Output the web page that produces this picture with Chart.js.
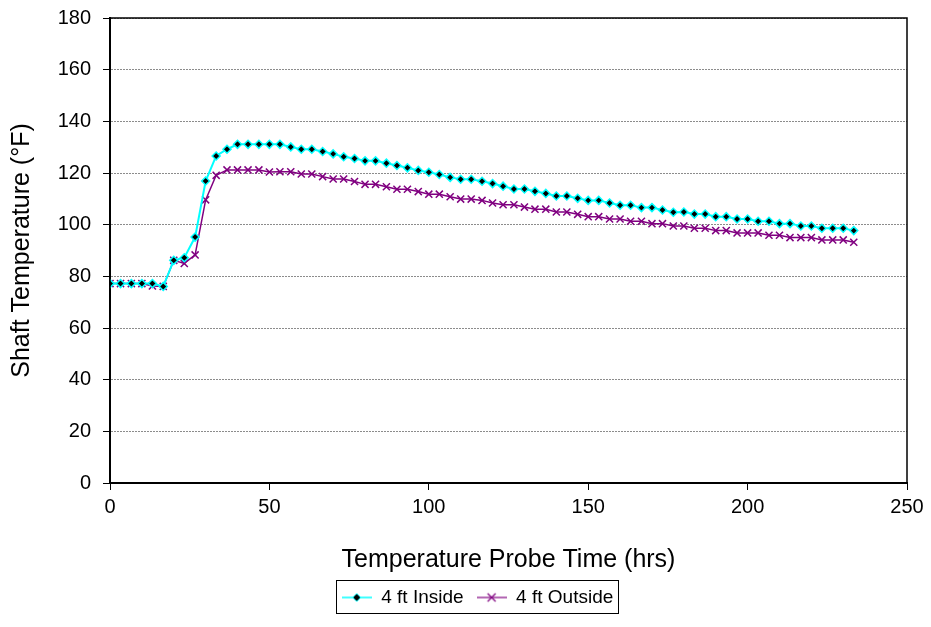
<!DOCTYPE html>
<html>
<head>
<meta charset="utf-8">
<script src="https://cdn.jsdelivr.net/npm/chart.js@4.4.0/dist/chart.umd.min.js"></script>
<style>
  html, body { margin: 0; padding: 0; background: #fff; }
</style>
</head>
<body>
<canvas id="chart" width="931" height="627"></canvas>
<script>
// Temps de la sonde (hrs)
const times = [0, 3.3, 6.7, 10, 13.3, 16.7, 20, 23.3, 26.7, 30, 33.3, 36.7, 40, 43.3, 46.7, 50,
  53.3, 56.7, 60, 63.3, 66.7, 70, 73.3, 76.7, 80, 83.3, 86.7, 90, 93.3, 96.7, 100, 103.3, 106.7,
  110, 113.3, 116.7, 120, 123.3, 126.7, 130, 133.3, 136.7, 140, 143.3, 146.7, 150, 153.3, 156.7,
  160, 163.3, 166.7, 170, 173.3, 176.7, 180, 183.3, 186.7, 190, 193.3, 196.7, 200, 203.3, 206.7,
  210, 213.3, 216.7, 220, 223.3, 226.7, 230, 233.3];

const inside4ft = [77.2, 77.2, 77.2, 77.2, 77.2, 76.1, 86.2, 87.2, 95.2, 116.9, 126.6, 129.2, 131.1,
  131.1, 131.1, 131.1, 131.1, 130.1, 129.2, 129.2, 128.3, 127.4, 126.3, 125.6, 124.7, 124.7, 123.8,
  122.9, 122, 121, 120.3, 119.4, 118.3, 117.6, 117.6, 116.8, 115.9, 114.9, 113.8, 113.8, 112.9,
  112.1, 111.1, 111.1, 110.2, 109.4, 109.4, 108.4, 107.5, 107.5, 106.6, 106.6, 105.7, 104.8, 104.9,
  104.1, 104.1, 103.1, 103.1, 102.2, 102.2, 101.3, 101.3, 100.4, 100.4, 99.5, 99.5, 98.6, 98.6,
  98.6, 97.7];

const outside4ft = [77.2, 77.2, 77.2, 77.2, 76.3, 76.1, 86.2, 85, 88.3, 109.6, 119.1, 121.2, 121.2,
  121.2, 121.2, 120.4, 120.5, 120.5, 119.6, 119.6, 118.6, 117.7, 117.7, 116.7, 115.6, 115.6, 114.7,
  113.7, 113.7, 112.8, 111.8, 111.8, 110.8, 109.9, 109.9, 109.4, 108.4, 107.7, 107.7, 106.8, 106,
  106, 104.9, 104.9, 104, 103.1, 103.1, 102.2, 102.2, 101.3, 101.3, 100.4, 100.4, 99.5, 99.5, 98.6,
  98.6, 97.7, 97.7, 96.8, 96.8, 96.8, 95.9, 95.9, 95, 95, 95, 94.1, 94.1, 94.1, 93.2];

const xTickValues = [0, 50, 100, 150, 200, 250];
const yTickValues = [0, 20, 40, 60, 80, 100, 120, 140, 160, 180];

Chart.defaults.font.family = "'Liberation Sans', Arial, sans-serif";
Chart.defaults.color = '#000';

// Petits dessins pour la légende (ligne + marqueur)
function legendMarker(color, lineW, drawMark) {
  const c = document.createElement('canvas');
  c.width = 30;
  c.height = 14;
  const g = c.getContext('2d');
  g.strokeStyle = color;
  g.lineWidth = lineW;
  g.beginPath();
  g.moveTo(0, 7);
  g.lineTo(30, 7);
  g.stroke();
  drawMark(g);
  return c;
}

const insideIcon = legendMarker('#00ffff', 1.5, g => {
  g.beginPath();
  g.moveTo(15, 3); g.lineTo(19, 7); g.lineTo(15, 11); g.lineTo(11, 7);
  g.closePath();
  g.fillStyle = '#000';
  g.fill();
  g.strokeStyle = '#00ffff';
  g.lineWidth = 1;
  g.stroke();
});

const outsideIcon = legendMarker('#800080', 1.2, g => {
  g.strokeStyle = '#800080';
  g.lineWidth = 1.2;
  g.beginPath();
  g.moveTo(11, 3); g.lineTo(19, 11);
  g.moveTo(19, 3); g.lineTo(11, 11);
  g.stroke();
});

const LEGEND_SHIFT = 24;

// Cadre noir autour de la zone du graphique + cadre de la légende
const framePlugin = {
  id: 'frame',
  beforeDraw(chart) {
    // décale la légende un peu vers la droite comme dans l'original
    const lg = chart.legend;
    lg.left += LEGEND_SHIFT;
    lg.right += LEGEND_SHIFT;
    lg.legendHitBoxes.forEach(h => { h.left += LEGEND_SHIFT; });
  },
  afterDatasetsDraw(chart) {
    const { ctx, chartArea: a } = chart;
    ctx.save();
    ctx.strokeStyle = '#000';
    ctx.lineWidth = 1.5;
    ctx.strokeRect(a.left, a.top, a.right - a.left, a.bottom - a.top);
    ctx.restore();
  },
  afterDraw(chart) {
    const boxes = chart.legend.legendHitBoxes;
    if (!boxes || !boxes.length) return;
    let l = Infinity, t = Infinity, r = -Infinity, b = -Infinity;
    boxes.forEach(h => {
      l = Math.min(l, h.left); t = Math.min(t, h.top);
      r = Math.max(r, h.left + h.width); b = Math.max(b, h.top + h.height);
    });
    const ctx = chart.ctx;
    ctx.save();
    ctx.strokeStyle = '#000';
    ctx.lineWidth = 1;
    ctx.strokeRect(Math.round(l - 6) + 0.5, Math.round(t - 8) + 0.5,
      Math.round(r - l + 10), Math.round(b - t + 14));
    ctx.restore();
  }
};

const ctx = document.getElementById('chart').getContext('2d');
new Chart(ctx, {
  type: 'line',
  data: {
    datasets: [{
      label: '4 ft Inside',
      data: times.map((t, i) => ({ x: t, y: inside4ft[i] })),
      borderColor: '#00ffff',
      borderWidth: 2,
      pointStyle: 'rectRot',
      pointRadius: 4,
      pointBackgroundColor: '#000',
      pointBorderColor: '#00ffff',
      pointBorderWidth: 1.5,
      tension: 0
    }, {
      label: '4 ft Outside',
      data: times.map((t, i) => ({ x: t, y: outside4ft[i] })),
      borderColor: '#800080',
      borderWidth: 1.5,
      pointStyle: 'crossRot',
      pointRadius: 5,
      pointBorderColor: '#800080',
      pointBorderWidth: 1.5,
      tension: 0
    }]
  },
  options: {
    responsive: false,
    animation: false,
    layout: { padding: { left: 0, top: 18, right: 24, bottom: 10 } },
    plugins: {
      tooltip: { enabled: false },
      legend: {
        position: 'bottom',
        labels: {
          usePointStyle: true,
          pointStyleWidth: 30,
          padding: 13,
          font: { size: 19 },
          generateLabels: chart => chart.data.datasets.map((ds, i) => ({
            text: ds.label,
            pointStyle: i === 0 ? insideIcon : outsideIcon,
            datasetIndex: i,
            fontColor: '#000',
            lineWidth: 0,
            strokeStyle: 'transparent',
            fillStyle: 'transparent'
          }))
        }
      }
    },
    scales: {
      x: {
        type: 'linear',
        min: 0,
        max: 250,
        afterBuildTicks: s => { s.ticks = xTickValues.map(v => ({ value: v })); },
        afterFit: s => { s.height = 92; s.paddingLeft = 0; s.paddingRight = 0; },
        grid: { drawOnChartArea: false, tickLength: 7, tickColor: '#000' },
        border: { color: '#000', width: 2 },
        ticks: { padding: 5, font: { size: 20 } },
        title: {
          display: true,
          text: 'Temperature Probe Time (hrs)',
          font: { size: 25 },
          padding: { top: 0, bottom: 0 }
        }
      },
      y: {
        min: 0,
        max: 180,
        afterBuildTicks: s => { s.ticks = yTickValues.map(v => ({ value: v })); },
        afterFit: s => { s.width = 110; s.paddingTop = 0; s.paddingBottom = 0; },
        grid: { color: '#8c8c8c', tickLength: 7, tickColor: '#000', lineWidth: 1 },
        border: { color: '#000', width: 2, dash: [2, 1] },
        ticks: { padding: 12, font: { size: 20 } },
        title: {
          display: true,
          text: 'Shaft Temperature (°F)',
          font: { size: 25 },
          padding: { top: 7, bottom: 0 }
        }
      }
    }
  },
  plugins: [framePlugin]
});
</script>
</body>
</html>
